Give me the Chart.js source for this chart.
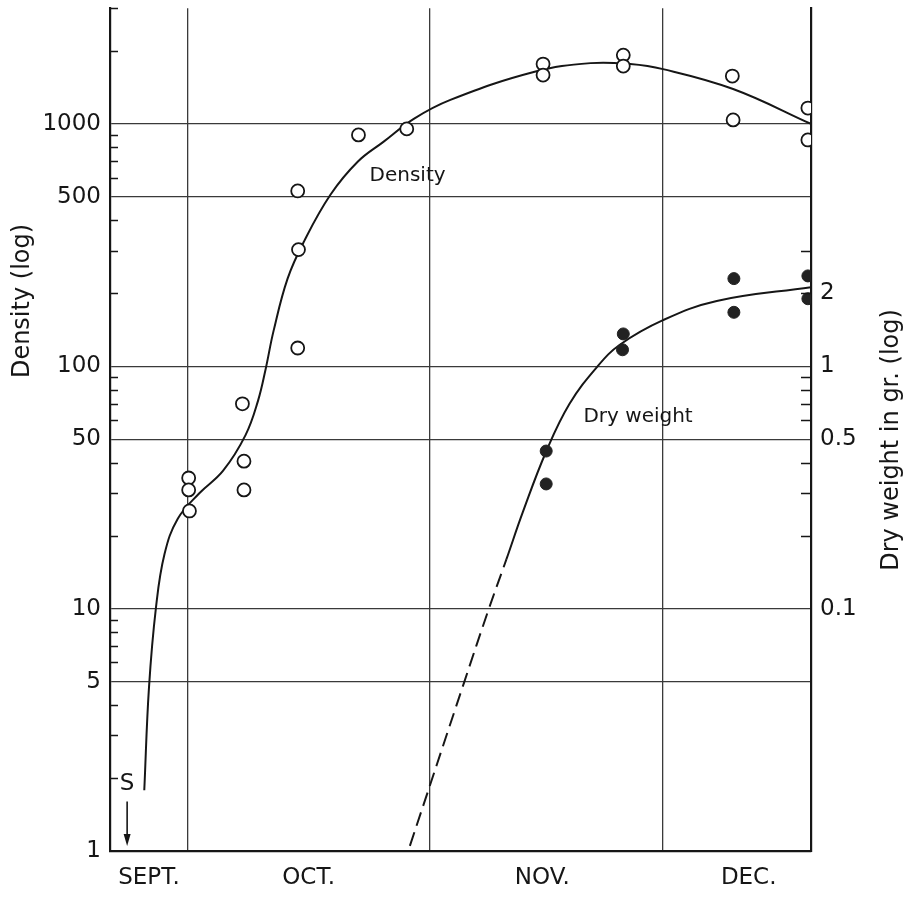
<!DOCTYPE html>
<html>
<head>
<meta charset="utf-8">
<script src="https://cdn.jsdelivr.net/npm/chart.js@4"></script>
<style>
  html, body { margin: 0; padding: 0; background: #fff; }
</style>
</head>
<body>
<canvas id="growthChart" width="908" height="897"></canvas>
<script>
// x values are days counted from Oct 1 (Sept. 21 .. Dec. 20)
const monthNames = ['SEPT.', 'OCT.', 'NOV.', 'DEC.'];
const monthLabelDays = [-5, 15.5, 45.5, 72];
const monthStartDays = [0, 31, 61];

const leftTickValues = [1, 5, 10, 50, 100, 500, 1000];
const leftMinorTicks = [2, 3, 4, 6, 7, 8, 9, 20, 30, 40, 60, 70, 80, 90, 200, 300, 400, 600, 700, 800, 900, 2000, 3000];
const rightTickValues = [0.1, 0.5, 1, 2];
const rightMinorTicks = [0.2, 0.3, 0.4, 0.6, 0.7, 0.8, 0.9, 2, 3];

// observed density (open circles)
const densityDays = [0.1, 0.1, 0.2, 7.0, 7.2, 7.2, 14.1, 14.2, 14.1, 21.9, 28.1, 45.6, 45.6, 55.9, 55.9, 69.9, 70.0, 79.6, 79.6];
const densityValues = [34.6, 30.9, 25.3, 70, 40.6, 30.9, 119, 303, 529, 901, 954, 1766, 1591, 1923, 1733, 1576, 1039, 1163, 859];

// observed dry weight in gr. (filled circles)
const dryDays = [46.0, 46.0, 55.9, 55.8, 70.1, 70.1, 79.6, 79.6];
const dryValues = [0.447, 0.327, 1.36, 1.17, 2.30, 1.67, 2.36, 1.90];

// fitted curves
const densityCurveDays = [-5.6, -5.0, -4.1, -3.0, -1.3, 1.5, 4.5, 7.4, 9.0, 10.0, 11.0, 12.8, 14.9, 18.3, 21.8, 25.1, 29.0, 33.7, 44.4, 51.7, 56.8, 61.0, 70.0, 80.0];
const densityCurveValues = [1.78, 4.7, 10.1, 16.8, 23.5, 30.0, 37, 52, 72, 98, 140, 230, 327, 510, 698, 843, 1049, 1256, 1637, 1782, 1766, 1683, 1393, 1000];

const dryCurveDays = [28.5, 35.5, 38.6, 40.9, 43.0, 46.0, 49.0, 52.6, 55.5, 61.0, 67.9, 80.0];
const dryCurveValues = [0.0105, 0.05, 0.099, 0.16, 0.25, 0.445, 0.70, 1.0, 1.23, 1.55, 1.86, 2.12];
const dryDashEndDay = 40.9;

const INK = '#161616';
const GRID = '#3a3a3a';
Chart.defaults.font.family = '"DejaVu Sans", sans-serif';
Chart.defaults.color = INK;

function toPoints(xs, ys) {
    return xs.map((x, i) => ({ x: x, y: ys[i] }));
}

// --- EXTRA DRAWING: inner tick marks, notes, axis titles ---
const decorations = {
    id: 'decorations',
    afterDatasetsDraw(chart) {
        const { ctx, chartArea, scales } = chart;
        const x = scales.x, yL = scales.y, yR = scales.y2;

        ctx.save();
        ctx.strokeStyle = INK;
        ctx.lineWidth = 1.5;
        ctx.beginPath();
        leftMinorTicks.forEach(v => {
            const py = Math.round(yL.getPixelForValue(v)) + 0.5;
            ctx.moveTo(chartArea.left, py);
            ctx.lineTo(chartArea.left + 8, py);
        });
        rightMinorTicks.forEach(v => {
            const py = Math.round(yR.getPixelForValue(v)) + 0.5;
            ctx.moveTo(chartArea.right, py);
            ctx.lineTo(chartArea.right - 10, py);
        });
        ctx.stroke();

        // curve notes
        ctx.fillStyle = INK;
        ctx.textAlign = 'center';
        ctx.textBaseline = 'middle';
        ctx.font = '20px "DejaVu Sans"';
        ctx.fillText('Density', x.getPixelForValue(28.2), yL.getPixelForValue(611));
        ctx.fillText('Dry weight', x.getPixelForValue(57.8), yL.getPixelForValue(62));

        // sowing mark
        const sx = x.getPixelForValue(-7.8);
        ctx.font = '23px "DejaVu Sans"';
        ctx.fillText('S', sx, yL.getPixelForValue(1.89));
        const top = yL.getPixelForValue(1.6);
        const tip = yL.getPixelForValue(1) - 5;
        ctx.lineWidth = 1.6;
        ctx.beginPath();
        ctx.moveTo(sx, top);
        ctx.lineTo(sx, tip - 8);
        ctx.stroke();
        ctx.beginPath();
        ctx.moveTo(sx - 3.5, tip - 12);
        ctx.lineTo(sx + 3.5, tip - 12);
        ctx.lineTo(sx, tip);
        ctx.closePath();
        ctx.fill();

        // axis titles, both read bottom to top
        ctx.font = '24px "DejaVu Sans"';
        ctx.save();
        ctx.translate(23, 301);
        ctx.rotate(-Math.PI / 2);
        ctx.fillText('Density (log)', 0, 0);
        ctx.restore();
        ctx.save();
        ctx.translate(892, 440);
        ctx.rotate(-Math.PI / 2);
        ctx.fillText('Dry weight in gr. (log)', 0, 0);
        ctx.restore();
        ctx.restore();
    }
};

new Chart(document.getElementById('growthChart'), {
    type: 'line',
    data: {
        datasets: [
            {
                label: 'Density',
                data: toPoints(densityDays, densityValues),
                yAxisID: 'y',
                showLine: false,
                pointRadius: 6.5,
                pointBackgroundColor: '#fff',
                pointBorderColor: INK,
                pointBorderWidth: 1.8,
                clip: 0,
                order: 1
            },
            {
                label: 'Dry weight',
                data: toPoints(dryDays, dryValues),
                yAxisID: 'y2',
                showLine: false,
                pointRadius: 6,
                pointBackgroundColor: '#222',
                pointBorderColor: '#222',
                pointBorderWidth: 1,
                clip: 0,
                order: 1
            },
            {
                label: 'Density curve',
                data: toPoints(densityCurveDays, densityCurveValues),
                yAxisID: 'y',
                pointRadius: 0,
                borderColor: INK,
                borderWidth: 2,
                tension: 0.4,
                clip: 0,
                order: 2
            },
            {
                label: 'Dry weight curve',
                data: toPoints(dryCurveDays, dryCurveValues),
                yAxisID: 'y2',
                pointRadius: 0,
                borderColor: INK,
                borderWidth: 2,
                tension: 0.4,
                segment: {
                    borderDash: c => c.p1.parsed.x <= dryDashEndDay ? [14, 7] : undefined
                },
                clip: 0,
                order: 2
            }
        ]
    },
    options: {
        responsive: false,
        animation: false,
        layout: { padding: { top: 6, left: 0, right: 0, bottom: 0 } },
        plugins: { legend: { display: false }, tooltip: { enabled: false } },
        scales: {
            x: {
                type: 'linear',
                min: -10,
                max: 80,
                afterBuildTicks: s => {
                    s.ticks = monthLabelDays.concat(monthStartDays)
                        .sort((a, b) => a - b)
                        .map(v => ({ value: v }));
                },
                ticks: {
                    autoSkip: false,
                    maxRotation: 0,
                    padding: 13,
                    font: { size: 23 },
                    callback: v => {
                        const i = monthLabelDays.indexOf(v);
                        return i >= 0 ? monthNames[i] : '';
                    }
                },
                grid: {
                    drawTicks: false,
                    lineWidth: 1.3,
                    color: c => (c.tick && monthStartDays.includes(c.tick.value)) ? GRID : 'rgba(0,0,0,0)'
                },
                border: { display: true, color: INK, width: 2.2 },
                afterFit: s => { s.height = 46; s.paddingLeft = 0; s.paddingRight = 0; }
            },
            y: {
                type: 'logarithmic',
                position: 'left',
                min: 1,
                max: 3000,
                afterBuildTicks: s => { s.ticks = leftTickValues.map(v => ({ value: v })); },
                ticks: {
                    autoSkip: false,
                    padding: 9,
                    font: { size: 23 },
                    callback: v => String(v)
                },
                grid: { drawTicks: false, lineWidth: 1.3, color: GRID },
                border: { display: true, color: INK, width: 2.2 },
                afterFit: s => { s.width = 110; s.paddingTop = 0; s.paddingBottom = 0; }
            },
            y2: {
                type: 'logarithmic',
                position: 'right',
                min: 0.01,
                max: 30,
                afterBuildTicks: s => { s.ticks = rightTickValues.map(v => ({ value: v })); },
                ticks: {
                    autoSkip: false,
                    padding: 9,
                    font: { size: 23 },
                    callback: v => String(v)
                },
                grid: { display: false, drawTicks: false },
                border: { display: true, color: INK, width: 2.2 },
                afterFit: s => { s.width = 97; s.paddingTop = 0; s.paddingBottom = 0; }
            }
        }
    },
    plugins: [decorations]
});
</script>
</body>
</html>
